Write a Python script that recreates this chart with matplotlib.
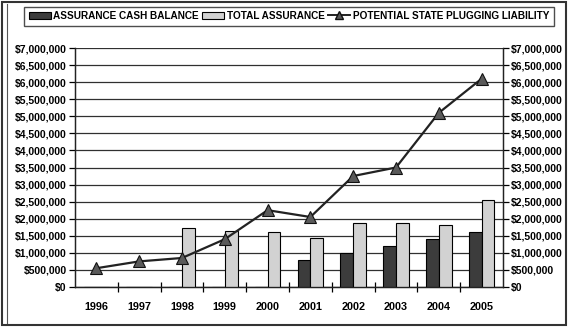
import numpy as np
import matplotlib
matplotlib.use("Agg")
import matplotlib.pyplot as plt
from matplotlib.patches import Patch, Rectangle
from matplotlib.lines import Line2D
from matplotlib.ticker import FuncFormatter, MultipleLocator, FixedLocator

plt.rcParams["font.family"] = ["Liberation Sans", "DejaVu Sans"]
plt.rcParams["font.weight"] = "bold"

years = ["1996", "1997", "1998", "1999", "2000", "2001", "2002", "2003", "2004", "2005"]
cash_balance = [0, 0, 0, 0, 0, 800000, 1000000, 1200000, 1420000, 1620000]
total_assurance = [0, 0, 1720000, 1650000, 1600000, 1440000, 1870000, 1870000, 1810000, 2560000]
plugging_liability = [550000, 750000, 850000, 1400000, 2250000, 2050000, 3250000, 3500000, 5100000, 6100000]

FIG_W, FIG_H = 568, 327
DPI = 100

fig = plt.figure(figsize=(FIG_W / DPI, FIG_H / DPI), dpi=DPI)
ax = fig.add_axes([75 / FIG_W, 1 - 287 / FIG_H, (503 - 75) / FIG_W, (287 - 48) / FIG_H])

x = np.arange(len(years))
bw = 0.3

ax.bar(x - bw / 2, cash_balance, width=bw, color="#3c3c3c", edgecolor="black", linewidth=0.8, zorder=3)
ax.bar(x + bw / 2, total_assurance, width=bw, color="#d2d2d2", edgecolor="black", linewidth=0.8, zorder=3)
ax.plot(x, plugging_liability, color="#222222", linewidth=1.6, marker="^", markersize=8,
        markerfacecolor="#5a5a5a", markeredgecolor="#111111", markeredgewidth=0.8, zorder=4)

money = FuncFormatter(lambda v, pos: f"${v:,.0f}")

ax.set_xlim(-0.5, len(years) - 0.5)
ax.set_ylim(0, 7000000)
ax.yaxis.set_major_locator(MultipleLocator(500000))
ax.yaxis.set_major_formatter(money)
ax.grid(axis="y", color="#303030", linewidth=0.9, zorder=0)

# year labels in the middle, tick marks on the category boundaries
ax.set_xticks(x)
ax.set_xticklabels(years)
ax.xaxis.set_minor_locator(FixedLocator(np.arange(0.5, len(years) - 0.5, 1.0)))
ax.tick_params(axis="x", which="major", length=0, pad=11, labelsize=7.8)
ax.tick_params(axis="x", which="minor", length=7, direction="inout", width=0.9)
ax.tick_params(axis="y", length=4, width=0.9, labelsize=7.5, pad=2)

ax2 = ax.twinx()
ax2.set_ylim(ax.get_ylim())
ax2.yaxis.set_major_locator(MultipleLocator(500000))
ax2.yaxis.set_major_formatter(money)
ax2.tick_params(axis="y", length=4, width=0.9, labelsize=7.5, pad=2)

for a in (ax, ax2):
    a.spines["top"].set_visible(False)
    for s in ("left", "right", "bottom"):
        a.spines[s].set_color("#222222")
        a.spines[s].set_linewidth(0.9)

handles = [
    Patch(facecolor="#3c3c3c", edgecolor="black", linewidth=0.8),
    Patch(facecolor="#d2d2d2", edgecolor="black", linewidth=0.8),
    Line2D([], [], color="#222222", linewidth=1.4, marker="^", markersize=6,
           markerfacecolor="#5a5a5a", markeredgecolor="#111111"),
]
labels = ["ASSURANCE CASH BALANCE", "TOTAL ASSURANCE", "POTENTIAL STATE PLUGGING LIABILITY"]
leg = fig.legend(handles, labels, loc="center", bbox_to_anchor=(289 / FIG_W, 1 - 16 / FIG_H),
                 ncol=3, fontsize=7.2, frameon=True, fancybox=False, handlelength=2.2,
                 handleheight=0.8, handletextpad=0.25, columnspacing=0.35, borderpad=0.45)
leg.get_frame().set_edgecolor("#222222")
leg.get_frame().set_linewidth(1.0)

# outer chart border, doubled on the left edge
fig.patches.append(Rectangle((2 / FIG_W, 2 / FIG_H), 1 - 4 / FIG_W, 1 - 4 / FIG_H,
                             transform=fig.transFigure, fill=False, edgecolor="#333333", linewidth=1.5))
fig.add_artist(Line2D([7 / FIG_W, 7 / FIG_W], [4 / FIG_H, 1 - 4 / FIG_H], transform=fig.transFigure,
                      color="#555555", linewidth=0.8))

fig.savefig("out.png", dpi=DPI)
